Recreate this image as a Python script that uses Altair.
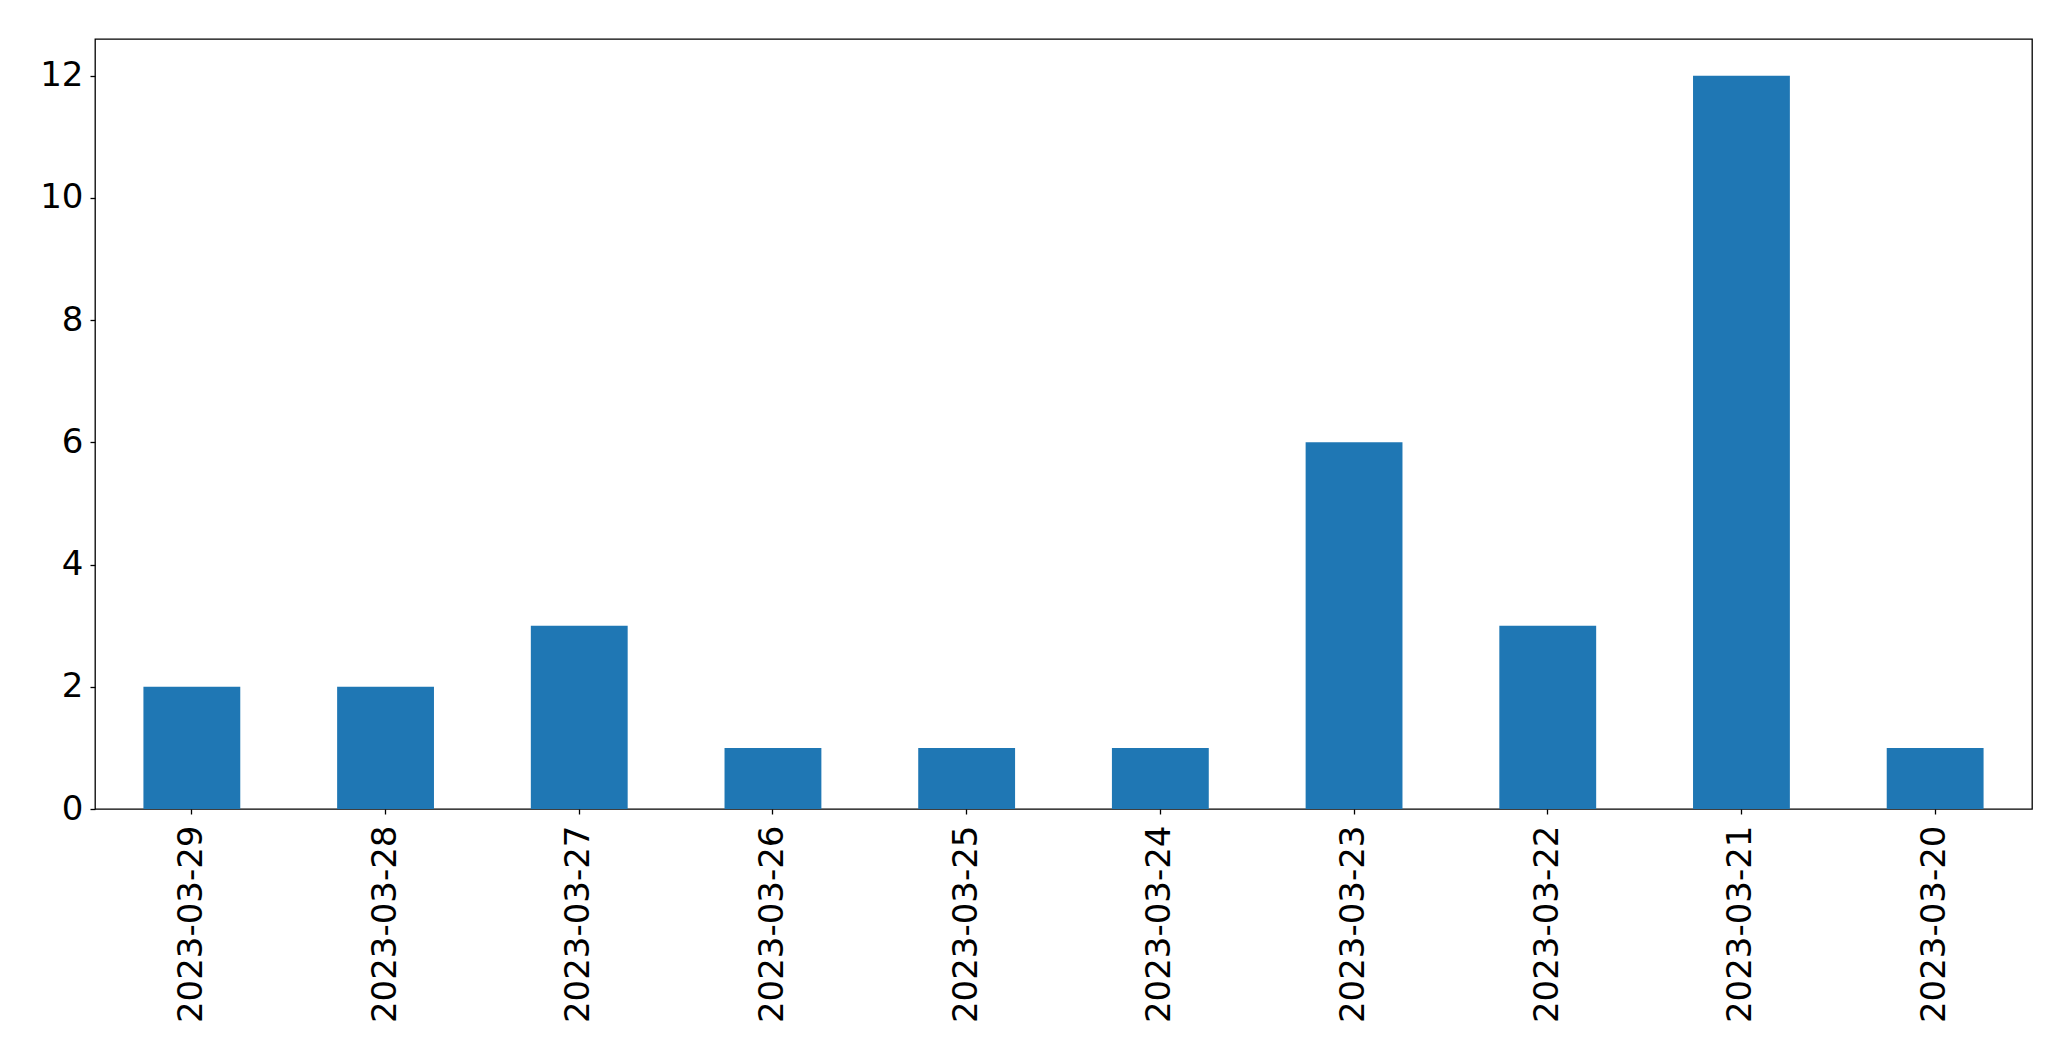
import altair as alt
import pandas as pd

dates = ["2023-03-29", "2023-03-28", "2023-03-27", "2023-03-26", "2023-03-25",
         "2023-03-24", "2023-03-23", "2023-03-22", "2023-03-21", "2023-03-20"]
counts = [2, 2, 3, 1, 1, 1, 6, 3, 12, 1]
y_ticks = [0, 2, 4, 6, 8, 10, 12]

df = pd.DataFrame({"date": dates, "count": counts})

chart = alt.Chart(df).mark_bar(color="#1f77b4").encode(
    x=alt.X("date:N", sort=dates, title=None,
            scale=alt.Scale(paddingInner=0.5, paddingOuter=0.25),
            axis=alt.Axis(labelAngle=270, labelFontSize=34, labelFont="DejaVu Sans",
                          labelColor="black", tickColor="black", tickSize=5,
                          tickWidth=1.3, labelPadding=11, labelLimit=0,
                          domain=False, grid=False)),
    y=alt.Y("count:Q", title=None,
            scale=alt.Scale(domain=[0, 12.6], nice=False, zero=True),
            axis=alt.Axis(values=y_ticks, labelFontSize=34, labelFont="DejaVu Sans",
                          labelColor="black", tickColor="black", tickSize=5,
                          tickWidth=1.3, labelPadding=7, domain=False, grid=False)),
).properties(
    width=1937, height=770,
    autosize=alt.AutoSizeParams(type="none"),
    padding={"left": 87, "top": 31, "right": 30, "bottom": 240},
).configure_view(
    stroke="black", strokeWidth=1.3
)

chart.save("out.html", embed_options={"renderer": "svg", "actions": False})
